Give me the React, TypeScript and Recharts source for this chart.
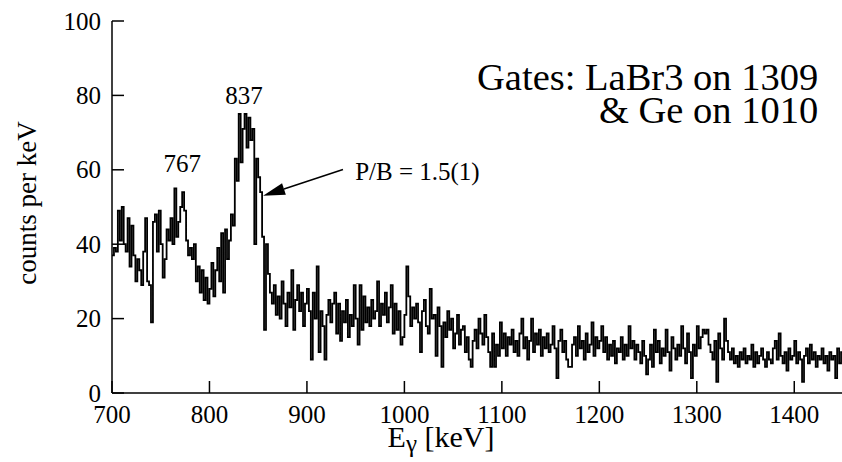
import React from 'react';
import { LineChart, Line, XAxis, YAxis, ReferenceDot, ReferenceLine } from 'recharts';

const binStart = 700;
const binWidth = 2;
const counts = [
  37, 39, 38, 49, 41, 50, 40, 38, 47, 34,
  45, 37, 30, 36, 33, 29, 38, 47, 30, 29,
  19, 46, 48, 38, 49, 40, 31, 36, 44, 41,
  47, 40, 55, 42, 46, 50, 54, 49, 41, 37,
  39, 36, 40, 30, 34, 27, 33, 25, 31, 24,
  28, 35, 26, 33, 39, 30, 43, 27, 44, 36,
  41, 48, 45, 63, 57, 75, 62, 71, 75, 66,
  74, 68, 71, 40, 63, 58, 54, 42, 17, 40,
  32, 27, 24, 29, 21, 26, 20, 30, 24, 18,
  27, 23, 33, 17, 25, 29, 22, 27, 18, 24,
  28, 22, 9, 27, 20, 34, 11, 22, 18, 9,
  21, 25, 19, 24, 27, 16, 24, 14, 22, 19,
  25, 15, 21, 18, 29, 20, 13, 29, 17, 26,
  19, 23, 18, 25, 20, 22, 30, 18, 24, 21,
  27, 19, 23, 29, 16, 24, 17, 22, 13, 15,
  21, 34, 26, 18, 23, 20, 24, 19, 11, 22,
  25, 18, 16, 28, 20, 21, 10, 23, 18, 7,
  19, 15, 22, 17, 20, 12, 16, 21, 13, 17,
  18, 11, 15, 9, 7, 14, 17, 12, 20, 16,
  13, 21, 15, 11, 7, 16, 7, 13, 10, 19,
  12, 16, 10, 15, 13, 17, 11, 14, 10, 16,
  20, 12, 15, 9, 14, 20, 11, 16, 13, 17,
  10, 15, 12, 16, 11, 13, 18, 12, 4, 14,
  17, 11, 14, 9, 7, 7, 13, 15, 10, 18,
  12, 14, 9, 16, 11, 13, 19, 10, 15, 12,
  14, 18, 11, 15, 9, 13, 10, 14, 8, 12,
  11, 15, 9, 13, 10, 18, 12, 14, 9, 13,
  11, 8, 14, 10, 5, 9, 13, 7, 17, 11,
  14, 8, 12, 10, 17, 11, 6, 15, 12, 9,
  13, 10, 18, 12, 8, 16, 11, 4, 13, 10,
  18, 12, 15, 17, 16, 17, 13, 11, 9, 14,
  3, 16, 12, 9, 20, 14, 11, 9, 12, 8,
  10, 7, 11, 9, 12, 8, 10, 9, 13, 7,
  11, 8, 10, 12, 9, 7, 11, 9, 8, 12,
  14, 9, 16, 10, 8, 11, 6, 12, 9, 10,
  14, 8, 11, 9, 3, 10, 12, 8, 13, 9,
  11, 7, 10, 9, 12, 8, 10, 6, 11, 9,
  10, 4, 12, 8, 11,
];

const xTicks = [700, 800, 900, 1000, 1100, 1200, 1300, 1400];
const yTicks = [0, 20, 40, 60, 80, 100];
const xDomain = [700, 1450];
const yDomain = [0, 100];

const peakLabels = [
  { text: '767', e: 772, c: 59.3 },
  { text: '837', e: 835.5, c: 77.6 },
];
const ratioLabel = { text: 'P/B = 1.5(1)', e: 949.5, c: 57.3 };
const arrowFrom = { e: 937, c: 60.1 };
const arrowTo = { e: 855, c: 53 };
const gateLines = [
  { text: 'Gates: LaBr3 on 1309', e: 1424.5, c: 81.4 },
  { text: '& Ge on 1010', e: 1424.5, c: 72.5 },
];

const data = counts.map((c, i) => ({ e: binStart + i * binWidth, c }));
data.push({ e: binStart + counts.length * binWidth, c: counts[counts.length - 1] });

const FONT = 'Liberation Serif, Times New Roman, serif';
const TICK = 12;
const SW = 1.5;

const BottomTick = (p: any) => (
  <g>
    <line x1={p.x} x2={p.x} y1={p.y} y2={p.y - TICK} stroke="#000" strokeWidth={SW} />
    <text x={p.x} y={p.y + 30} textAnchor="middle" fontSize={25} fontFamily={FONT} fill="#000">
      {p.payload.value}
    </text>
  </g>
);
const TopTick = (p: any) => (
  <line x1={p.x} x2={p.x} y1={p.y} y2={p.y + TICK} stroke="#000" strokeWidth={SW} />
);
const LeftTick = (p: any) => (
  <g>
    <line x1={p.x} x2={p.x + TICK} y1={p.y} y2={p.y} stroke="#000" strokeWidth={SW} />
    <text x={p.x - 11} y={p.y + 8.5} textAnchor="end" fontSize={25} fontFamily={FONT} fill="#000">
      {p.payload.value}
    </text>
  </g>
);
const RightTick = (p: any) => (
  <line x1={p.x} x2={p.x - TICK} y1={p.y} y2={p.y} stroke="#000" strokeWidth={SW} />
);

const axisLine = { stroke: '#000', strokeWidth: SW };

export default function App() {
  return (
    <div style={{ position: 'absolute', left: 0, top: 0, width: 842, height: 462, overflow: 'hidden', background: '#fff', fontFamily: FONT }}>
      <LineChart width={844} height={462} data={data} margin={{ top: 21, right: 1, left: 0, bottom: 0 }}>
        <XAxis
          xAxisId="b"
          dataKey="e"
          type="number"
          domain={xDomain}
          ticks={xTicks}
          interval={0}
          height={69}
          tickSize={0}
          tickMargin={0}
          tickLine={false}
          axisLine={axisLine}
          tick={BottomTick}
          label={{
            content: (props: any) => {
              const vb = props.viewBox;
              return (
                <text x={vb.x + 329} y={vb.y + 54} textAnchor="middle" fontSize={30} fontFamily={FONT} fill="#000">
                  E<tspan fontSize={25} dy={5}>γ</tspan>
                  <tspan dy={-5}> [keV]</tspan>
                </text>
              );
            },
          }}
        />
        <XAxis
          xAxisId="t"
          orientation="top"
          dataKey="e"
          type="number"
          domain={xDomain}
          ticks={xTicks}
          interval={0}
          height={0}
          tickSize={0}
          tickMargin={0}
          tickLine={false}
          axisLine={axisLine}
          tick={TopTick}
        />
        <YAxis
          yAxisId="l"
          type="number"
          domain={yDomain}
          ticks={yTicks}
          interval={0}
          width={112}
          tickSize={0}
          tickMargin={0}
          tickLine={false}
          axisLine={axisLine}
          tick={LeftTick}
          label={{
            content: (props: any) => {
              const vb = props.viewBox;
              const cx = vb.x + 27;
              const cy = vb.y + vb.height / 2 - 4;
              return (
                <text x={cx} y={cy} transform={`rotate(-90 ${cx} ${cy})`} textAnchor="middle" dominantBaseline="central" fontSize={27} fontFamily={FONT} fill="#000">
                  counts per keV
                </text>
              );
            },
          }}
        />
        <YAxis
          yAxisId="r"
          orientation="right"
          type="number"
          domain={yDomain}
          ticks={yTicks}
          interval={0}
          width={0}
          tickSize={0}
          tickMargin={0}
          tickLine={false}
          axisLine={axisLine}
          tick={RightTick}
        />
        <Line
          xAxisId="b"
          yAxisId="l"
          type="stepAfter"
          dataKey="c"
          stroke="#000"
          strokeWidth={1.8}
          dot={false}
          activeDot={false}
          isAnimationActive={false}
        />
        {peakLabels.map((l) => (
          <ReferenceDot
            key={l.text}
            xAxisId="b"
            yAxisId="l"
            x={l.e}
            y={l.c}
            r={0}
            shape={(p: any) => (
              <text x={p.cx} y={p.cy} textAnchor="middle" fontSize={25} fontFamily={FONT} fill="#000">
                {l.text}
              </text>
            )}
          />
        ))}
        <ReferenceDot
          xAxisId="b"
          yAxisId="l"
          x={ratioLabel.e}
          y={ratioLabel.c}
          r={0}
          shape={(p: any) => (
            <text x={p.cx} y={p.cy} textAnchor="start" fontSize={25} fontFamily={FONT} fill="#000">
              {ratioLabel.text}
            </text>
          )}
        />
        <ReferenceLine
          xAxisId="b"
          yAxisId="l"
          segment={[{ x: arrowFrom.e, y: arrowFrom.c }, { x: arrowTo.e, y: arrowTo.c }]}
          shape={(p: any) => {
            const { x1, y1, x2, y2 } = p;
            const dx = x2 - x1;
            const dy = y2 - y1;
            const len = Math.sqrt(dx * dx + dy * dy) || 1;
            const ux = dx / len;
            const uy = dy / len;
            const hl = 22;
            const hw = 6;
            const bx = x2 - ux * hl;
            const by = y2 - uy * hl;
            const pts = `${x2},${y2} ${bx - uy * hw},${by + ux * hw} ${bx + uy * hw},${by - ux * hw}`;
            return (
              <g>
                <line x1={x1} y1={y1} x2={bx} y2={by} stroke="#000" strokeWidth={1.5} />
                <polygon points={pts} fill="#000" />
              </g>
            );
          }}
        />
        {gateLines.map((l) => (
          <ReferenceDot
            key={l.text}
            xAxisId="b"
            yAxisId="l"
            x={l.e}
            y={l.c}
            r={0}
            shape={(p: any) => (
              <text x={p.cx} y={p.cy} textAnchor="end" fontSize={38.5} fontFamily={FONT} fill="#000">
                {l.text}
              </text>
            )}
          />
        ))}
      </LineChart>
    </div>
  );
}
